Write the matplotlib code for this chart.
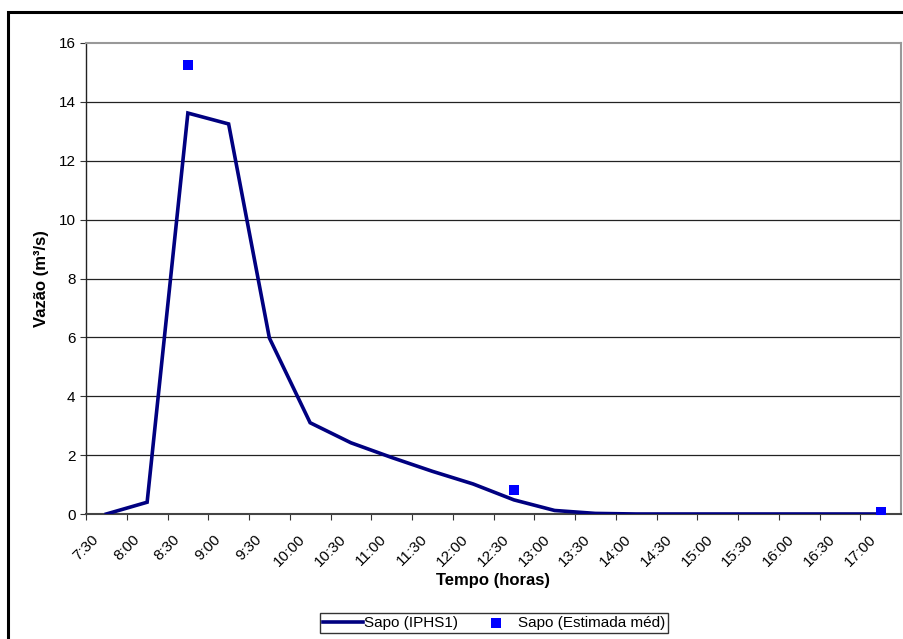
import numpy as np
import matplotlib
matplotlib.use("Agg")
import matplotlib.pyplot as plt
from matplotlib.patches import Rectangle

plt.rcParams['font.family'] = ['Liberation Sans', 'DejaVu Sans']

# simulated flow (IPHS1), every 30 min from 7:45
sim_hours = [7.75, 8.25, 8.75, 9.25, 9.75, 10.25, 10.75, 11.25, 11.75, 12.25,
             12.75, 13.25, 13.75, 14.25, 14.75, 15.25, 15.75, 16.25, 16.75, 17.25]
sim_flow = [0.0, 0.4, 13.62, 13.25, 5.98, 3.1, 2.42, 1.92, 1.45, 1.02,
            0.48, 0.12, 0.02, 0.0, 0.0, 0.0, 0.0, 0.0, 0.0, 0.0]

# estimated mean flow
est_hours = [8.75, 12.75, 17.25]
est_flow = [15.25, 0.82, 0.07]

tick_hours = np.arange(7.5, 17.01, 0.5)
tick_labels = ['7:30', '8:00', '8:30', '9:00', '9:30', '10:00', '10:30', '11:00',
               '11:30', '12:00', '12:30', '13:00', '13:30', '14:00', '14:30',
               '15:00', '15:30', '16:00', '16:30', '17:00']

fig = plt.figure(figsize=(9.04, 6.39), dpi=100)
ax = fig.add_axes([86/904, 1 - 514/639, (901 - 86)/904, (514 - 43)/639])

# outer chart border (cut off at right/bottom)
fig.patches.append(Rectangle((8/904, -0.05), 1.05, 1 - 12/639 + 0.05,
                             transform=fig.transFigure, fill=False,
                             edgecolor='black', linewidth=2.2, clip_on=False))

ax.plot(sim_hours, sim_flow, color='#000080', lw=2.6, label='Sapo (IPHS1)',
        solid_joinstyle='miter', zorder=3)
ax.scatter(est_hours, est_flow, marker='s', s=60, color='#0000FF',
           label='Sapo (Estimada méd)', zorder=4, linewidths=0)

ax.set_xlim(7.5, 17.5)
ax.set_ylim(0, 16)
ax.set_yticks(np.arange(0, 17, 2))
ax.set_xticks(tick_hours)
ax.set_xticklabels(tick_labels, rotation=45, ha='center', va='top')
ax.tick_params(axis='both', labelsize=11, length=4, width=0.8, direction='out', color='#333333')
ax.tick_params(axis='x', pad=9)

for y in np.arange(2, 16, 2):
    ax.axhline(y, color='#222222', lw=0.9, zorder=1)

for s in ['top', 'right']:
    ax.spines[s].set_color('#999999')
    ax.spines[s].set_linewidth(1.5)
ax.spines['left'].set_color('#222222')
ax.spines['bottom'].set_color('#444444')
ax.spines['bottom'].set_linewidth(1.5)
ax.spines['left'].set_linewidth(1.0)

ax.set_ylabel('Vazão (m³/s)', fontsize=12, fontweight='bold', labelpad=7)
ax.set_xlabel('Tempo (horas)', fontsize=12, fontweight='bold', labelpad=3)

leg = fig.legend(loc='center', bbox_to_anchor=(494/904, 1 - 623/639), ncol=2,
                 fontsize=11, frameon=True, fancybox=False, edgecolor='black',
                 handlelength=2.6, handletextpad=0.1, columnspacing=1.2,
                 borderpad=0.2, markerscale=0.9)
leg.get_frame().set_linewidth(1.0)

fig.savefig('out.png', dpi=100)
